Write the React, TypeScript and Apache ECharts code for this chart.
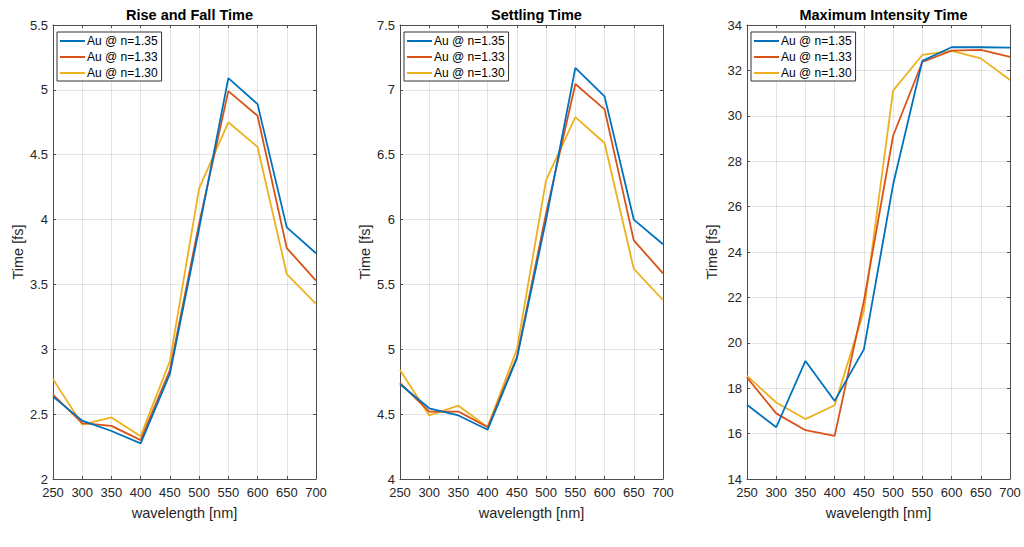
import React, { useEffect, useRef } from "react";
import * as echarts from "echarts";

const wavelengths = [250, 300, 350, 400, 450, 500, 550, 600, 650, 700];
const seriesNames = ["Au @ n=1.35", "Au @ n=1.33", "Au @ n=1.30"];
const colors = ["#0072BD", "#D95319", "#EDB120"];

const titles = ["Rise and Fall Time", "Settling Time", "Maximum Intensity Time"];

const riseFall135 = [2.635, 2.45, 2.37, 2.275, 2.81, 3.93, 5.09, 4.89, 3.94, 3.74];
const riseFall133 = [2.65, 2.43, 2.41, 2.3, 2.84, 3.97, 4.99, 4.8, 3.78, 3.53];
const riseFall130 = [2.77, 2.42, 2.475, 2.33, 2.91, 4.24, 4.75, 4.56, 3.58, 3.35];

const settling135 = [4.73, 4.545, 4.49, 4.38, 4.93, 6.0, 7.17, 6.95, 6.0, 5.81];
const settling133 = [4.74, 4.52, 4.52, 4.4, 4.94, 6.05, 7.045, 6.85, 5.84, 5.585];
const settling130 = [4.84, 4.49, 4.565, 4.4, 5.0, 6.305, 6.79, 6.59, 5.62, 5.38];

const maxInt135 = [17.27, 16.28, 19.2, 17.44, 19.71, 26.97, 32.42, 33.02, 33.02, 33.0];
const maxInt133 = [18.47, 16.89, 16.15, 15.9, 21.84, 29.12, 32.37, 32.87, 32.9, 32.6];
const maxInt130 = [18.54, 17.37, 16.64, 17.25, 21.4, 31.11, 32.68, 32.86, 32.53, 31.58];

const yMins = [2, 4, 14];
const yMaxs = [5.5, 7.5, 34];
const yIntervals = [0.5, 0.5, 2];

const panelData = [
  [riseFall135, riseFall133, riseFall130],
  [settling135, settling133, settling130],
  [maxInt135, maxInt133, maxInt130],
];

const gridLefts = [53, 400, 747];
const gridWidth = 263;
const gridTop = 25;
const gridHeight = 454;

const axisColor = "#4d4d4d";
const textColor = "#262626";
const font = "Liberation Sans, Arial, Helvetica, sans-serif";

export default function App() {
  const ref = useRef<HTMLDivElement>(null);

  useEffect(() => {
    document.body.style.margin = "0";
    if (!ref.current) return;
    const chart = echarts.init(ref.current, undefined, { renderer: "svg" });

    const grids: any[] = [];
    const xAxes: any[] = [];
    const yAxes: any[] = [];
    const series: any[] = [];
    const titleArr: any[] = [];
    const legends: any[] = [];

    for (let p = 0; p < 3; p++) {
      grids.push({
        left: gridLefts[p],
        top: gridTop,
        width: gridWidth,
        height: gridHeight,
        containLabel: false,
      });
      const xBase = {
        type: "value",
        gridIndex: p,
        min: 250,
        max: 700,
        interval: 50,
      };
      xAxes.push({
        ...xBase,
        position: "bottom",
        name: "wavelength [nm]",
        nameLocation: "middle",
        nameGap: 26,
        nameTextStyle: { fontSize: 14.5, color: textColor, fontFamily: font },
        axisLine: { show: true, lineStyle: { color: axisColor, width: 1 } },
        axisTick: { show: true, inside: true, length: 3, lineStyle: { color: axisColor } },
        axisLabel: { show: true, fontSize: 13, lineHeight: 12, color: textColor, fontFamily: font, margin: 7 },
        splitLine: { show: true, lineStyle: { color: "rgba(38,38,38,0.12)", width: 1 } },
      });
      xAxes.push({
        ...xBase,
        position: "top",
        axisLine: { show: true, onZero: false, lineStyle: { color: axisColor, width: 1 } },
        axisTick: { show: true, inside: true, length: 3, lineStyle: { color: axisColor } },
        axisLabel: { show: false },
        splitLine: { show: false },
      });
      const yBase = {
        type: "value",
        gridIndex: p,
        min: yMins[p],
        max: yMaxs[p],
        interval: yIntervals[p],
      };
      yAxes.push({
        ...yBase,
        position: "left",
        name: "Time [fs]",
        nameLocation: "middle",
        nameGap: 28,
        nameTextStyle: { fontSize: 14.5, color: textColor, fontFamily: font },
        axisLine: { show: true, onZero: false, lineStyle: { color: axisColor, width: 1 } },
        axisTick: { show: true, inside: true, length: 3, lineStyle: { color: axisColor } },
        axisLabel: { show: true, fontSize: 13, lineHeight: 11, color: textColor, fontFamily: font, margin: 5 },
        splitLine: { show: true, lineStyle: { color: "rgba(38,38,38,0.12)", width: 1 } },
      });
      yAxes.push({
        ...yBase,
        position: "right",
        axisLine: { show: true, onZero: false, lineStyle: { color: axisColor, width: 1 } },
        axisTick: { show: true, inside: true, length: 3, lineStyle: { color: axisColor } },
        axisLabel: { show: false },
        splitLine: { show: false },
      });

      for (let s = 0; s < 3; s++) {
        series.push({
          type: "line",
          name: seriesNames[s],
          xAxisIndex: p * 2,
          yAxisIndex: p * 2,
          showSymbol: false,
          symbol: "none",
          lineStyle: { color: colors[s], width: 1.8 },
          itemStyle: { color: colors[s] },
          data: wavelengths.map((w, i) => [w, panelData[p][s][i]]),
          z: 3 - s + 2,
        });
      }

      titleArr.push({
        text: titles[p],
        left: gridLefts[p] + gridWidth / 2,
        textAlign: "center",
        top: 2,
        textStyle: { fontSize: 14.5, fontWeight: "bold", color: "#000", fontFamily: font },
      });

      legends.push({
        orient: "vertical",
        left: gridLefts[p] + 4,
        top: 32,
        data: seriesNames,
        icon: "rect",
        itemWidth: 25,
        itemHeight: 2,
        itemGap: 2,
        padding: [2, 4, 1, 3],
        backgroundColor: "#fff",
        borderColor: "#333",
        borderWidth: 1,
        borderRadius: 0,
        selectedMode: false,
        textStyle: {
          fontSize: 12,
          color: "#000",
          fontFamily: font,
          lineHeight: 14,
          padding: [0, 0, 0, -3],
        },
      });
    }

    chart.setOption({
      animation: false,
      backgroundColor: "#fff",
      title: titleArr,
      legend: legends,
      grid: grids,
      xAxis: xAxes,
      yAxis: yAxes,
      series,
    });

    return () => chart.dispose();
  }, []);

  return <div ref={ref} style={{ width: 1024, height: 547 }} />;
}
